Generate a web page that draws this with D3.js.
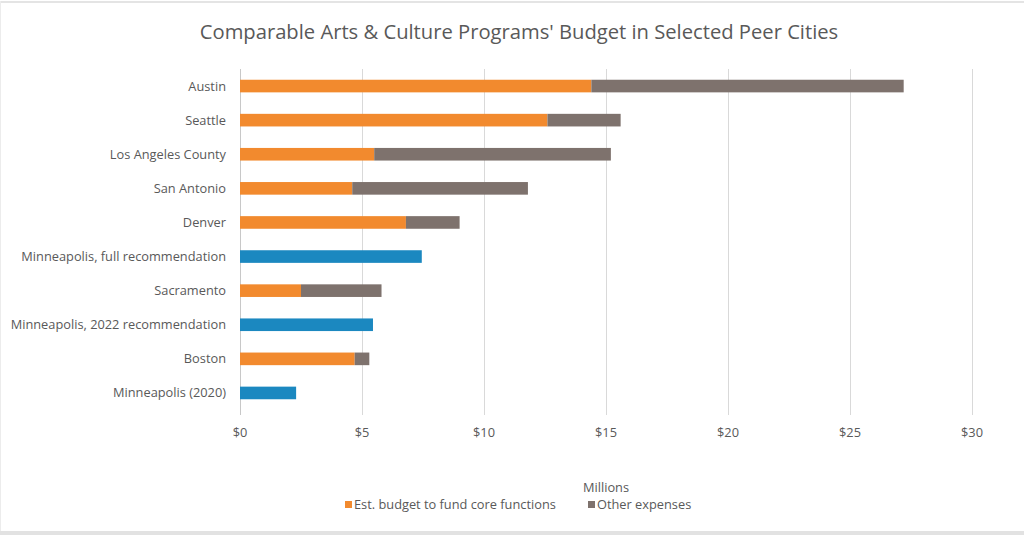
<!DOCTYPE html>
<html><head><meta charset="utf-8">
<script src="https://cdn.jsdelivr.net/npm/d3@7"></script>
<style>
html,body{margin:0;padding:0;background:#fff;}
svg text{font-family:"Open Sans",Lato,sans-serif;fill:#595959;}
</style></head>
<body>
<svg id="chart" width="1024" height="535"></svg>
<script>
const cities = ["Austin","Seattle","Los Angeles County","San Antonio","Denver","Minneapolis, full recommendation","Sacramento","Minneapolis, 2022 recommendation","Boston","Minneapolis (2020)"];
const coreBudget = [14.4, 12.6, 5.5, 4.6, 6.8, 0, 2.5, 0, 4.7, 0];
const otherExpenses = [12.8, 3.0, 9.7, 7.2, 2.2, 0, 3.3, 0, 0.6, 0];
const minneapolisBudget = [0, 0, 0, 0, 0, 7.45, 0, 5.45, 0, 2.3];
const xTicks = [0,5,10,15,20,25,30];
const seriesNames = ["Est. budget to fund core functions","Other expenses"];
const colors = {core:"#F28A2E", other:"#7E726D", mpls:"#1B88C0"};

const svg = d3.select("#chart");
// frame lines
svg.append("rect").attr("x",0).attr("y",1).attr("width",1024).attr("height",2).attr("fill","#e4e4e4");
svg.append("rect").attr("x",0).attr("y",1).attr("width",1).attr("height",530).attr("fill","#ececec");
svg.append("rect").attr("x",0).attr("y",531).attr("width",1024).attr("height",4).attr("fill","#e2e2e2");

const x = d3.scaleLinear().domain([0,30]).range([240,972]);
const y = d3.scaleBand().domain(cities).range([69,410]).paddingInner(0.63).paddingOuter(0.315);

// gridlines
svg.append("g").selectAll("line").data(xTicks).join("line")
  .attr("x1",d=>x(d)+0.5).attr("x2",d=>x(d)+0.5).attr("y1",69).attr("y2",415)
  .attr("stroke",d=>d===0?"#c8c8c8":"#d9d9d9").attr("stroke-width",1);

// x tick labels
svg.append("g").selectAll("text").data(xTicks).join("text")
  .attr("x",d=>x(d)).attr("y",437).attr("text-anchor","middle")
  .attr("font-size",12.8).text(d=>"$"+d);

// stacked data
const rows = cities.map((c,i)=>({city:c, core:coreBudget[i], other:otherExpenses[i], mpls:minneapolisBudget[i]}));
const stack = d3.stack().keys(["core","other","mpls"])(rows);
svg.append("g").selectAll("g").data(stack).join("g")
  .attr("fill",s=>colors[s.key])
  .selectAll("rect").data(s=>s).join("rect")
  .attr("x",d=>x(d[0])).attr("width",d=>Math.max(0,x(d[1])-x(d[0])))
  .attr("y",d=>y(d.data.city)).attr("height",y.bandwidth());

// category labels
svg.append("g").selectAll("text").data(cities).join("text")
  .attr("x",226).attr("y",d=>y(d)+y.bandwidth()/2).attr("dy","0.35em")
  .attr("text-anchor","end").attr("font-size",12.8).text(d=>d);

// title
svg.append("text").attr("x",519).attr("y",39).attr("text-anchor","middle")
  .attr("font-size",20.2).text("Comparable Arts & Culture Programs' Budget in Selected Peer Cities");

// axis title
svg.append("text").attr("x",606).attr("y",492).attr("text-anchor","middle")
  .attr("font-size",12.8).text("Millions");

// legend
const legend = [{name:seriesNames[0],color:colors.core,x:345},{name:seriesNames[1],color:colors.other,x:588}];
const lg = svg.append("g").selectAll("g").data(legend).join("g");
lg.append("rect").attr("x",d=>d.x).attr("y",501).attr("width",7).attr("height",7).attr("fill",d=>d.color);
lg.append("text").attr("x",d=>d.x+9).attr("y",505).attr("dy","0.35em").attr("font-size",12.8).text(d=>d.name);
</script>
</body></html>
